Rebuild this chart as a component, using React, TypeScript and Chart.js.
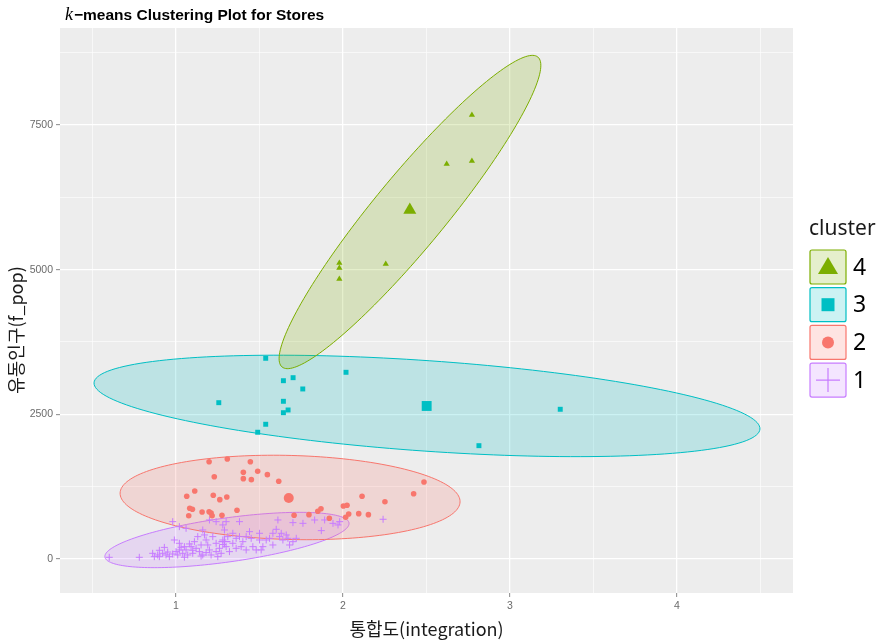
import React, { useEffect, useRef } from 'react';
import { Chart, registerables } from 'chart.js';

Chart.register(...registerables);

// ---------- data ----------
const clusterNames = ['1', '2', '3', '4'];
const clusterColors = ['#C77CFF', '#F8766D', '#00BFC4', '#7CAE00'];
const clusterShapes = ['cross', 'circle', 'rect', 'triangle'];

const xTickValues = [1, 2, 3, 4];
const yTickValues = [0, 2500, 5000, 7500];
const xGridValues = [0.5, 1, 1.5, 2, 2.5, 3, 3.5, 4, 4.5];
const yGridValues = [0, 1250, 2500, 3750, 5000, 6250, 7500, 8750];

const cluster1Points: number[][] = [
  [0.60, 29], [0.78, 29], [0.86, 98], [0.87, 40], [0.89, 69], [0.90, 40], [0.92, 98], [0.94, 69], [0.96, 40],
  [0.98, 86], [1.00, 127], [1.01, 69], [1.02, 156], [1.03, 202], [1.04, 98], [1.06, 156], [1.07, 69], [1.09, 213],
  [1.10, 98], [1.12, 184], [1.14, 127], [1.16, 69], [1.18, 328], [1.19, 242], [1.20, 156], [1.21, 69], [1.22, 386],
  [1.24, 271], [1.26, 184], [1.27, 98], [1.28, 328], [1.29, 501], [1.30, 213], [1.32, 127], [1.34, 271], [1.36, 357],
  [1.39, 213], [1.40, 299], [1.42, 156], [1.44, 472], [1.45, 357], [1.46, 213], [1.48, 156], [1.50, 328], [1.52, 213],
  [1.54, 328], [1.56, 357], [1.58, 242], [1.60, 513], [1.62, 386], [1.64, 328], [1.66, 415], [1.68, 242], [1.70, 299],
  [1.72, 357], [1.61, 674], [1.70, 628], [1.76, 616], [1.83, 674], [1.87, 490], [1.89, 674], [1.94, 616], [1.97, 588],
  [1.98, 645], [2.24, 686], [0.98, 645], [1.02, 559], [1.06, 530], [1.16, 501], [1.20, 674], [1.24, 645], [1.28, 588],
  [1.30, 645], [1.38, 645], [0.99, 328], [1.02, 271], [1.05, 213], [1.11, 299], [1.13, 386], [1.17, 415], [1.15, 242],
  [1.31, 386], [1.34, 444], [1.38, 386], [1.42, 386], [1.50, 444], [1.51, 156], [1.36, 184], [1.24, 127], [1.58, 444],
  [1.63, 444], [1.67, 357], [0.90, 150], [0.95, 120], [1.05, 30], [1.10, 150], [1.15, 50], [1.25, 40], [1.08, 260],
  [0.93, 200], [1.18, 110], [1.28, 250],
];

const cluster2Points: number[][] = [
  [1.198, 1681], [1.307, 1728], [1.445, 1681], [1.229, 1422], [1.403, 1498], [1.489, 1516], [1.547, 1457],
  [1.403, 1388], [1.451, 1371], [1.615, 1343], [2.485, 1331], [1.064, 1083], [1.112, 1175], [1.223, 1101],
  [1.262, 1025], [1.304, 1071], [2.114, 1083], [2.251, 990], [2.423, 1128], [1.082, 876], [1.098, 859],
  [1.156, 812], [1.198, 817], [1.210, 795], [1.275, 755], [1.365, 842], [1.076, 748], [1.216, 748],
  [1.707, 755], [1.796, 766], [1.849, 824], [1.868, 869], [1.918, 703], [2.002, 916], [2.024, 928],
  [2.034, 778], [2.094, 783], [2.152, 766], [2.016, 721],
];

const cluster3Points: number[][] = [
  [1.537, 3468], [2.018, 3226], [1.643, 3081], [1.701, 3133], [1.759, 2938], [1.256, 2701], [1.643, 2725],
  [1.643, 2528], [1.671, 2575], [1.537, 2328], [1.489, 2190], [3.301, 2587], [2.814, 1958],
];

const cluster4Points: number[][] = [
  [2.772, 7672], [2.621, 6826], [2.772, 6878], [1.978, 5115], [1.978, 5028], [1.978, 4838], [2.256, 5098],
];

const centroidX = [1.29, 1.675, 2.501, 2.40];
const centroidY = [300, 1054, 2644, 6030];

// ellipse: center + two conjugate semi-axis vectors (data units)
const ellipseCenterX = [1.305, 1.683, 2.503, 2.401];
const ellipseCenterY = [328, 1063, 2645, 5996];
const ellipseUX = [0.731, 1.018, 1.994, 0.766];
const ellipseUY = [294, -76, -400, 2678];
const ellipseVX = [0.018, -0.0066, -0.017, 0.166];
const ellipseVY = [-377, -726, -780, -396];

// ---------- helpers ----------
function rgba(hex: string, a: number) {
  const n = parseInt(hex.slice(1), 16);
  return `rgba(${(n >> 16) & 255},${(n >> 8) & 255},${n & 255},${a})`;
}
const isMultiple = (v: number, s: number) => Math.abs(v / s - Math.round(v / s)) < 1e-6;

const ellipsePlugin = {
  id: 'ellipses',
  beforeDatasetsDraw(chart: any) {
    const { ctx, chartArea, scales } = chart;
    const xs = scales.x, ys = scales.y;
    ctx.save();
    ctx.beginPath();
    ctx.rect(chartArea.left, chartArea.top, chartArea.right - chartArea.left, chartArea.bottom - chartArea.top);
    ctx.clip();
    for (let i = 0; i < ellipseCenterX.length; i++) {
      ctx.beginPath();
      const n = 180;
      for (let k = 0; k <= n; k++) {
        const t = (k / n) * Math.PI * 2;
        const dx = ellipseCenterX[i] + ellipseUX[i] * Math.cos(t) + ellipseVX[i] * Math.sin(t);
        const dy = ellipseCenterY[i] + ellipseUY[i] * Math.cos(t) + ellipseVY[i] * Math.sin(t);
        const px = xs.getPixelForValue(dx);
        const py = ys.getPixelForValue(dy);
        if (k === 0) ctx.moveTo(px, py); else ctx.lineTo(px, py);
      }
      ctx.closePath();
      ctx.fillStyle = rgba(clusterColors[i], 0.2);
      ctx.fill();
      ctx.strokeStyle = clusterColors[i];
      ctx.lineWidth = 1;
      ctx.stroke();
    }
    ctx.restore();
  },
};

const backgroundPlugin = {
  id: 'panelBg',
  beforeDraw(chart: any) {
    const { ctx, chartArea } = chart;
    ctx.save();
    ctx.fillStyle = '#FFFFFF';
    ctx.fillRect(0, 0, chart.width, chart.height);
    ctx.fillStyle = '#EDEDED';
    ctx.fillRect(chartArea.left, chartArea.top, chartArea.right - chartArea.left, chartArea.bottom - chartArea.top);
    ctx.restore();
  },
};

function drawSymbol(ctx: CanvasRenderingContext2D, shape: string, x: number, y: number, color: string) {
  ctx.save();
  ctx.fillStyle = color;
  ctx.strokeStyle = color;
  if (shape === 'triangle') {
    ctx.beginPath();
    ctx.moveTo(x, y - 10);
    ctx.lineTo(x + 10, y + 7);
    ctx.lineTo(x - 10, y + 7);
    ctx.closePath();
    ctx.fill();
  } else if (shape === 'rect') {
    ctx.fillRect(x - 6.5, y - 6.5, 13, 13);
  } else if (shape === 'circle') {
    ctx.beginPath();
    ctx.arc(x, y, 6, 0, Math.PI * 2);
    ctx.fill();
  } else {
    ctx.lineWidth = 1.2;
    ctx.beginPath();
    ctx.moveTo(x - 12, y);
    ctx.lineTo(x + 12, y);
    ctx.moveTo(x, y - 12);
    ctx.lineTo(x, y + 12);
    ctx.stroke();
  }
  ctx.restore();
}

const textPlugin = {
  id: 'texts',
  afterDraw(chart: any) {
    const { ctx, chartArea } = chart;
    ctx.save();
    // title
    ctx.fillStyle = '#000000';
    ctx.textBaseline = 'alphabetic';
    ctx.textAlign = 'left';
    ctx.font = 'italic 18px "Liberation Serif"';
    ctx.fillText('k', 65, 20);
    ctx.font = 'bold 15.5px "Liberation Sans"';
    ctx.fillText('\u2212means Clustering Plot for Stores', 74, 20);

    // axis titles
    ctx.fillStyle = '#1A1A1A';
    ctx.font = '18px "Noto Sans CJK KR"';
    ctx.textAlign = 'center';
    ctx.textBaseline = 'middle';
    ctx.fillText('통합도(integration)', (chartArea.left + chartArea.right) / 2, 629);
    ctx.save();
    ctx.translate(16, 330);
    ctx.rotate(-Math.PI / 2);
    ctx.fillText('유동인구(f_pop)', 0, 0);
    ctx.restore();

    // legend
    ctx.textAlign = 'left';
    ctx.textBaseline = 'alphabetic';
    ctx.font = '21px "Noto Sans"';
    ctx.fillStyle = '#1A1A1A';
    ctx.fillText('cluster', 809, 235);
    const order = [3, 2, 1, 0];
    order.forEach((ci, k) => {
      const top = 250 + k * 37.7;
      const left = 810;
      const w = 36, h = 34;
      ctx.beginPath();
      ctx.roundRect(left, top, w, h, 2);
      ctx.fillStyle = rgba(clusterColors[ci], 0.2);
      ctx.fill();
      ctx.strokeStyle = clusterColors[ci];
      ctx.lineWidth = 1.2;
      ctx.stroke();
      drawSymbol(ctx, clusterShapes[ci], left + w / 2, top + h / 2, clusterColors[ci]);
      ctx.fillStyle = '#000000';
      ctx.font = '23px "Noto Sans"';
      ctx.textBaseline = 'middle';
      ctx.fillText(clusterNames[ci], 853, top + h / 2 + 1);
      ctx.textBaseline = 'alphabetic';
    });
    ctx.restore();
  },
};

const smallRadius = [3.5, 2.8, 3.5, 3.6];
const bigRadius = [6, 5, 7, 7.5];

export default function App() {
  const ref = useRef<HTMLCanvasElement | null>(null);

  useEffect(() => {
    if (!ref.current) return;
    const allPoints = [cluster1Points, cluster2Points, cluster3Points, cluster4Points];
    const datasets: any[] = [];
    allPoints.forEach((pts, i) => {
      const isCross = clusterShapes[i] === 'cross';
      datasets.push({
        label: 'cluster ' + clusterNames[i],
        data: pts.map((p) => ({ x: p[0], y: p[1] })),
        pointStyle: clusterShapes[i],
        pointRadius: smallRadius[i],
        pointHoverRadius: smallRadius[i],
        backgroundColor: clusterColors[i],
        borderColor: clusterColors[i],
        borderWidth: isCross ? 1 : 0,
        order: 10 - i,
      });
      datasets.push({
        label: 'centroid ' + clusterNames[i],
        data: [{ x: centroidX[i], y: centroidY[i] }],
        pointStyle: clusterShapes[i],
        pointRadius: bigRadius[i],
        pointHoverRadius: bigRadius[i],
        backgroundColor: clusterColors[i],
        borderColor: clusterColors[i],
        borderWidth: isCross ? 1.3 : 0,
        order: 10 - i,
      });
    });

    const chart = new Chart(ref.current, {
      type: 'scatter',
      data: { datasets },
      plugins: [backgroundPlugin, ellipsePlugin, textPlugin],
      options: {
        animation: false,
        responsive: false,
        maintainAspectRatio: false,
        events: [],
        layout: { padding: { left: 0, top: 28, right: 91, bottom: 0 } },
        plugins: { legend: { display: false }, tooltip: { enabled: false }, title: { display: false } },
        scales: {
          x: {
            type: 'linear',
            min: 0.305,
            max: 4.695,
            afterFit: (s: any) => { s.height = 49; },
            afterBuildTicks: (s: any) => { s.ticks = xGridValues.map((v) => ({ value: v })); },
            border: { display: false },
            grid: {
              color: '#FFFFFF',
              lineWidth: (c: any) => (isMultiple(c.tick.value, 1) ? 1.3 : 0.6),
              tickColor: (c: any) => (xTickValues.includes(c.tick.value) ? '#8A8A8A' : 'rgba(0,0,0,0)'),
              tickLength: 4,
              tickWidth: 1,
              drawTicks: true,
            },
            ticks: {
              autoSkip: false,
              maxRotation: 0,
              padding: 3,
              color: '#6B6B6B',
              font: { family: '"Liberation Sans"', size: 10.5 },
              callback: (v: any) => (xTickValues.includes(Number(v)) ? String(v) : ''),
            },
          },
          y: {
            type: 'linear',
            min: -588,
            max: 9176,
            afterFit: (s: any) => { s.width = 60; },
            afterBuildTicks: (s: any) => { s.ticks = yGridValues.map((v) => ({ value: v })); },
            border: { display: false },
            grid: {
              color: '#FFFFFF',
              lineWidth: (c: any) => (isMultiple(c.tick.value, 2500) ? 1.3 : 0.6),
              tickColor: (c: any) => (yTickValues.includes(c.tick.value) ? '#8A8A8A' : 'rgba(0,0,0,0)'),
              tickLength: 4,
              tickWidth: 1,
              drawTicks: true,
            },
            ticks: {
              autoSkip: false,
              padding: 3,
              color: '#6B6B6B',
              font: { family: '"Liberation Sans"', size: 10.5 },
              callback: (v: any) => (yTickValues.includes(Number(v)) ? String(v) : ''),
            },
          },
        },
      } as any,
    });
    return () => chart.destroy();
  }, []);

  return (
    <div style={{ position: 'absolute', left: 0, top: 0, width: 884, height: 642, background: '#FFFFFF' }}>
      <canvas ref={ref} width={884} height={642} style={{ display: 'block', width: 884, height: 642 }} />
    </div>
  );
}
